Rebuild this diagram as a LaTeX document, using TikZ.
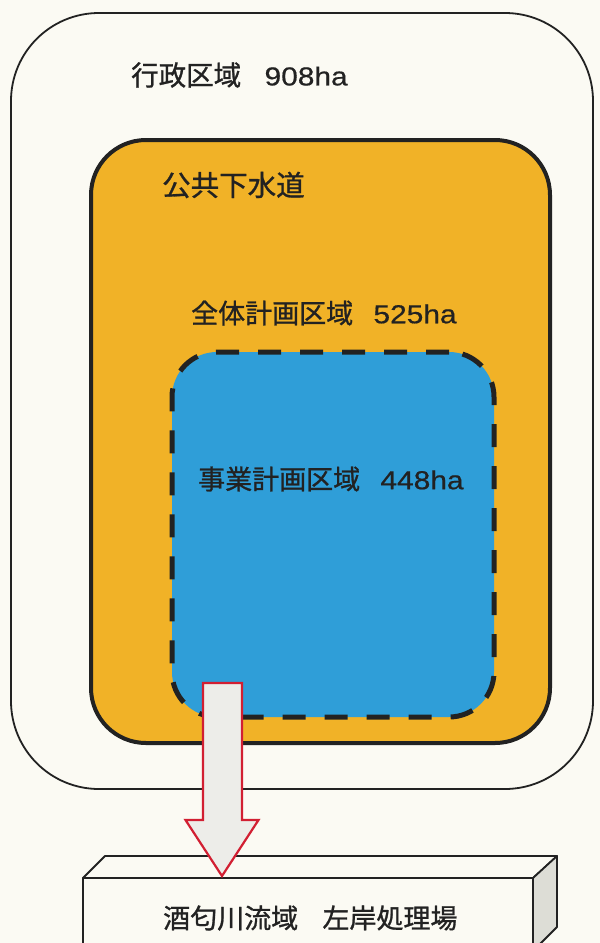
\documentclass[tikz,border=0pt]{standalone}
\usepackage{fontspec}
\newfontfamily\jpfont[FakeBold=1]{Noto Sans CJK JP}
\newfontfamily\latfont[FakeBold=0.6, FakeStretch=1.15]{Liberation Sans}
\usetikzlibrary{calc}
\definecolor{bgc}{HTML}{FBFAF3}
\definecolor{orangec}{HTML}{F1B227}
\definecolor{bluec}{HTML}{2F9ED8}
\definecolor{redc}{HTML}{D21F32}
\definecolor{arrowfill}{HTML}{EDEDE9}
\definecolor{sidefill}{HTML}{DDDDD6}
\definecolor{inkc}{HTML}{222222}
\newcommand{\hax}[1]{{\latfont\fontsize{26pt}{30pt}\selectfont #1}}
\tikzset{
  lbl/.style={inner sep=0pt, anchor=west, text=inkc, font=\jpfont\fontsize{27pt}{30pt}\selectfont},
  regionbox/.style={draw=inkc, inner sep=0pt},
}
\begin{document}
\begin{tikzpicture}[x=1pt, y=-1pt]
\useasboundingbox (0,0) rectangle (600,943);
\fill[bgc] (0,0) rectangle (600,943);
% outer box
\node[regionbox, line width=1.8pt, rounded corners=88pt, minimum width=582pt, minimum height=776pt, fill=bgc] (outer) at (302,401) {};
% orange box
\node[regionbox, line width=4pt, rounded corners=55pt, minimum width=459pt, minimum height=603pt, fill=orangec] (sewer) at (320.5,441.5) {};
% blue dashed box
\node[regionbox, line width=5pt, dash pattern=on 23pt off 19pt, rounded corners=45pt, minimum width=322pt, minimum height=365pt, fill=bluec] (biz) at (333,534.5) {};
% labels
\node[lbl, font=\jpfont\fontsize{27.5pt}{30pt}\selectfont] (t1) at (131,75) {行政区域\hspace{0.85em}\hax{908ha}};
\node[lbl, font=\jpfont\fontsize{28.5pt}{30pt}\selectfont] (t2) at (162,185) {公共下水道};
\node[lbl] (t3) at (191,313) {全体計画区域\hspace{0.75em}\hax{525ha}};
\node[lbl] (t4) at (198,479) {事業計画区域\hspace{0.75em}\hax{448ha}};
% bottom 3D box
\coordinate (ftl) at (83,878);
\coordinate (ftr) at (533,878);
\coordinate (btl) at (105,856);
\coordinate (btr) at (557,856);
\coordinate (bbr) at (557,927);
\coordinate (fbr) at (533,951);
\coordinate (fbl) at (83,951);
\filldraw[draw=inkc, fill=bgc, line width=1.8pt, line join=round] (ftl) -- (btl) -- (btr) -- (ftr) -- cycle;
\filldraw[draw=inkc, fill=sidefill, line width=1.8pt, line join=round] (ftr) -- (btr) -- (bbr) -- (fbr) -- cycle;
\filldraw[draw=inkc, fill=bgc, line width=1.8pt, line join=round] (fbl) -- (ftl) -- (ftr) -- (fbr);
\node[lbl] (t5) at (163,918) {酒匂川流域\hspace{0.9em}左岸処理場};
% block arrow
\coordinate (atop) at (222.5,683);
\coordinate (atip) at (222,876);
\filldraw[draw=redc, fill=arrowfill, line width=2.2pt, line join=miter]
  ($(atop)+(-19.5,0)$) -- ($(atop)+(19.5,0)$) -- ($(atop)+(19.5,137)$) -- ($(atop)+(36,137)$)
  -- (atip) -- ($(atop)+(-37,137)$) -- ($(atop)+(-19.5,137)$) -- cycle;
\end{tikzpicture}
\end{document}
